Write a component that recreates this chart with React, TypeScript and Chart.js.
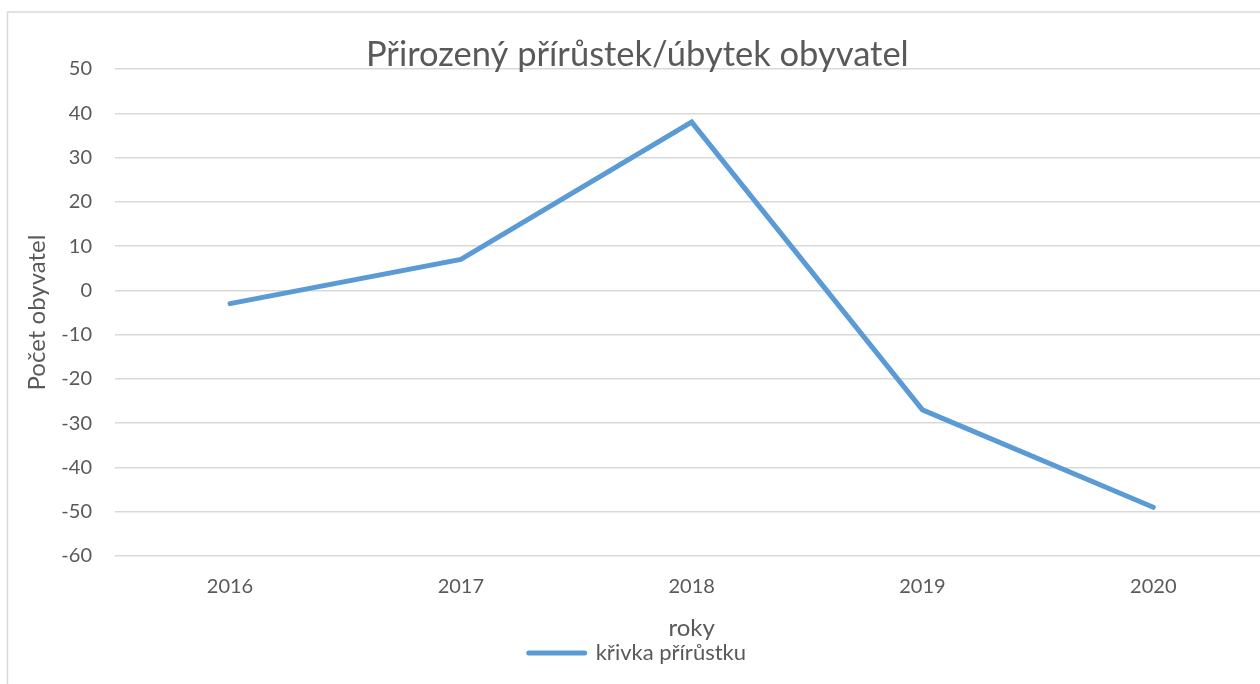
import React, { useEffect, useRef } from "react";
import { Chart, registerables } from "chart.js";

Chart.register(...registerables);

const categories = ["2016", "2017", "2018", "2019", "2020"];
const seriesValues = [-3, 7, 38, -27, -49];
const seriesName = "křivka přírůstku";
const chartTitle = "Přirozený přírůstek/úbytek obyvatel";
const xTitle = "roky";
const yTitle = "Počet obyvatel";
const yMin = -60;
const yMax = 50;
const yStep = 10;

const FONT = "Lato, 'Open Sans', sans-serif";
const TEXT = "#595959";
const GRID = "#d9d9d9";
const LINE = "#5b9bd5";

const borderPlugin = {
  id: "outerBorder",
  beforeDraw(chart: any) {
    const ctx = chart.ctx;
    ctx.save();
    ctx.fillStyle = "#ffffff";
    ctx.fillRect(0, 0, chart.width, chart.height);
    ctx.strokeStyle = GRID;
    ctx.lineWidth = 1.5;
    ctx.strokeRect(1.5, 4, chart.width + 20, chart.height + 20);
    ctx.restore();
  },
};

export default function App() {
  const ref = useRef<HTMLCanvasElement | null>(null);
  useEffect(() => {
    document.documentElement.style.overflow = "hidden";
    document.body.style.overflow = "hidden";
    const canvas = ref.current;
    if (!canvas) return;
    const chart = new Chart(canvas, {
      type: "line",
      data: {
        labels: categories,
        datasets: [
          {
            label: seriesName,
            data: seriesValues,
            borderColor: LINE,
            backgroundColor: LINE,
            borderWidth: 5,
            pointRadius: 0,
            tension: 0,
            borderCapStyle: "round",
            borderJoinStyle: "miter",
          },
        ],
      },
      options: {
        animation: false,
        responsive: false,
        maintainAspectRatio: false,
        layout: { padding: { left: 0, right: 5.3, top: 0, bottom: 10 } },
        plugins: {
          tooltip: { enabled: false },
          title: {
            display: true,
            text: chartTitle,
            color: TEXT,
            font: { family: FONT, size: 34.5, weight: "normal" },
            padding: { top: 26.2, bottom: -6.6 },
          },
          legend: {
            display: true,
            position: "bottom",
            labels: {
              color: TEXT,
              font: { family: FONT, size: 22 },
              usePointStyle: true,
              pointStyle: "line",
              pointStyleWidth: 56,
              padding: 0,
              generateLabels(c: any) {
                return c.data.datasets.map((ds: any, i: number) => ({
                  text: ds.label,
                  fillStyle: ds.borderColor,
                  strokeStyle: ds.borderColor,
                  lineWidth: 5,
                  lineCap: "round",
                  pointStyle: "line",
                  hidden: false,
                  datasetIndex: i,
                  fontColor: TEXT,
                }));
              },
            },
          },
        },
        scales: {
          x: {
            offset: true,
            grid: { display: false, drawTicks: false },
            border: { display: false },
            ticks: {
              color: TEXT,
              font: { family: FONT, size: 20, lineHeight: 3.1 },
              padding: 0,
              maxRotation: 0,
            },
            title: {
              display: true,
              text: xTitle,
              color: TEXT,
              font: { family: FONT, size: 24 },
              padding: { top: 0, bottom: -1 },
            },
            afterFit(scale: any) {
              scale.height = 86;
            },
          },
          y: {
            min: yMin,
            max: yMax,
            grid: { color: GRID, lineWidth: 1.5, drawTicks: false },
            border: { display: false },
            ticks: {
              stepSize: yStep,
              color: TEXT,
              font: { family: FONT, size: 20 },
              padding: 22.6,
            },
            title: {
              display: true,
              text: yTitle,
              color: TEXT,
              font: { family: FONT, size: 24 },
              padding: { top: 16.6, bottom: 0 },
            },
            afterFit(scale: any) {
              scale.width = 108.6;
            },
          },
        },
      },
      plugins: [borderPlugin],
    } as any);
    return () => chart.destroy();
  }, []);
  return (
    <div style={{ position: "fixed", left: 6, top: 8, width: 1268, height: 676 }}>
      <canvas
        ref={ref}
        width={1268}
        height={676}
        style={{ display: "block", width: 1268, height: 676 }}
      />
    </div>
  );
}
